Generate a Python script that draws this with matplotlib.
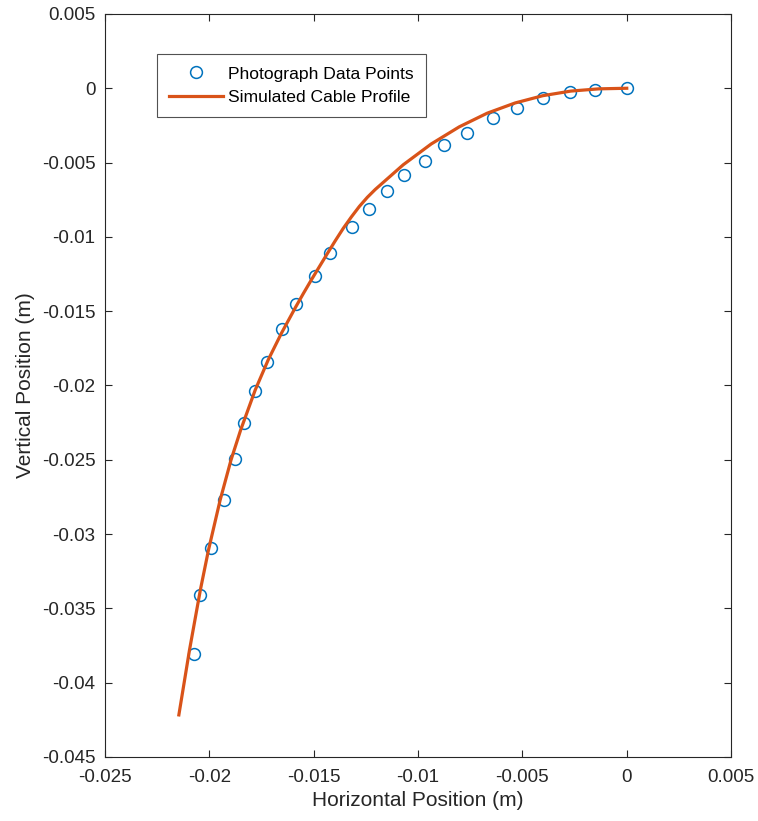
import matplotlib
matplotlib.use('Agg')
import matplotlib.pyplot as plt
import numpy as np

plt.rcParams['font.family'] = ['Liberation Sans', 'DejaVu Sans']
plt.rcParams['axes.unicode_minus'] = False

# photograph data points (m)
photo_x = [0.0, -0.0015, -0.00274, -0.00402, -0.00524, -0.00639, -0.00763, -0.00875,
           -0.00966, -0.01066, -0.01149, -0.01237, -0.01316, -0.0142, -0.01496, -0.01584,
           -0.01651, -0.01722, -0.0178, -0.01834, -0.01876, -0.01931, -0.0199, -0.02046, -0.02073]
photo_y = [0.0, -0.0001, -0.00027, -0.00067, -0.00135, -0.00202, -0.00303, -0.00382,
           -0.00487, -0.00583, -0.00691, -0.0081, -0.00931, -0.0111, -0.01263, -0.01452,
           -0.01622, -0.01841, -0.02039, -0.02254, -0.02495, -0.02768, -0.03091, -0.03412, -0.03809]

# simulated cable profile (m)
sim_x = [0.0, -0.00134, -0.00268, -0.00402, -0.00535, -0.00669, -0.00803, -0.00937,
         -0.01071, -0.01205, -0.01243, -0.01281, -0.01319, -0.01358, -0.01396, -0.01434,
         -0.01472, -0.01511, -0.01549, -0.01587, -0.01654, -0.01718, -0.0178, -0.0185,
         -0.01896, -0.01948, -0.02004, -0.02043, -0.02095, -0.02146]
sim_y = [0.0, -0.00004, -0.00019, -0.0005, -0.00099, -0.00168, -0.0026, -0.00375,
         -0.00515, -0.00681, -0.00734, -0.00795, -0.00865, -0.00942, -0.01025, -0.01111,
         -0.01199, -0.01289, -0.0138, -0.01474, -0.01647, -0.01828, -0.0203, -0.023,
         -0.02501, -0.0277, -0.03107, -0.03376, -0.0378, -0.04217]

blue = '#0072BD'
orange = '#D95319'
dark = '#262626'

fig = plt.figure(figsize=(7.58, 8.21), dpi=100)
ax = fig.add_axes([0.1385, 0.078, 0.826, 0.905])

ax.plot(photo_x, photo_y, 'o', mfc='none', mec=blue, ms=8.5, mew=1.1,
        label='Photograph Data Points')
ax.plot(sim_x, sim_y, '-', color=orange, lw=2.3, label='Simulated Cable Profile',
        solid_joinstyle='round')

ax.set_xlim(-0.025, 0.005)
ax.set_ylim(-0.045, 0.005)
ax.set_xticks(np.arange(-0.025, 0.0051, 0.005))
ax.set_yticks(np.arange(-0.045, 0.0051, 0.005))
ax.set_xticklabels(['-0.025', '-0.02', '-0.015', '-0.01', '-0.005', '0', '0.005'])
ax.set_yticklabels(['-0.045', '-0.04', '-0.035', '-0.03', '-0.025', '-0.02', '-0.015',
                    '-0.01', '-0.005', '0', '0.005'])

ax.tick_params(direction='in', top=True, right=True, labelsize=13.5,
               colors=dark, length=5, width=0.8)
ax.tick_params(axis='x', pad=9)
ax.tick_params(axis='y', pad=7)
for s in ax.spines.values():
    s.set_color(dark)
    s.set_linewidth(0.8)

ax.set_xlabel('Horizontal Position (m)', fontsize=15, color=dark, labelpad=3)
ax.set_ylabel('Vertical Position (m)', fontsize=15, color=dark, labelpad=5)

leg = ax.legend(loc='upper left', bbox_to_anchor=(0.2071, 0.9342), bbox_transform=fig.transFigure,
                borderaxespad=0, fontsize=12.6, frameon=True, fancybox=False, borderpad=0.7,
                handlelength=3.05, labelspacing=0.47, handletextpad=0.3)
leg.get_frame().set_edgecolor(dark)
leg.get_frame().set_linewidth(0.8)

fig.savefig('out.png', dpi=100)
